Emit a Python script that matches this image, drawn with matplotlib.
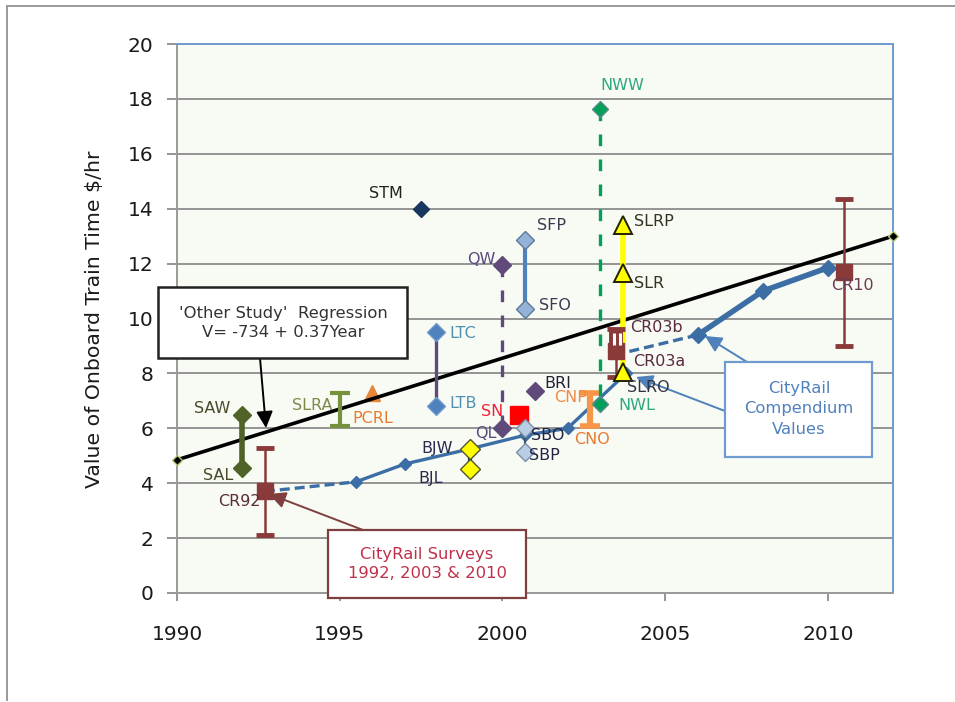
import matplotlib
matplotlib.use("Agg")
import matplotlib.pyplot as plt
from matplotlib.lines import Line2D

W, H = 955, 702

# regression
reg_x = [1990, 2012]
reg_y = [4.85, 13.0]

# CityRail compendium values
comp_thin_x = [1995.5, 1997, 1999, 2000.7, 2002, 2003.8]
comp_thin_y = [4.05, 4.7, 5.25, 5.75, 6.0, 8.0]
comp_thick_x = [2006, 2008, 2010]
comp_thick_y = [9.4, 11.0, 11.85]
comp_dash1_x = [1992.7, 1995.5]
comp_dash1_y = [3.7, 4.05]
comp_dash2_x = [2003.9, 2006]
comp_dash2_y = [8.8, 9.4]

# surveys with error bars
cr_x = [1992.7, 2003.5, 2010.5]
cr_y = [3.7, 8.8, 11.7]
cr_low = [2.1, 7.87, 9.0]
cr_high = [5.3, 9.6, 14.35]

slra_x = 1995
slra_low, slra_high = 6.1, 7.3
cno_x = 2002.7
cno_low, cno_high = 6.1, 7.3

saw_x, saw_y = [1992, 1992], [6.5, 4.55]
ltc_x, ltc_y = [1997.95, 1997.95], [9.5, 6.8]
bjw_x, bjw_y = [1999, 1999], [5.25, 4.5]
qw_x, qw_y = [2000, 2000], [11.95, 6.0]
sfp_x, sfp_y = [2000.7, 2000.7], [12.85, 10.35]
sbo_x, sbo_y = [2000.7, 2000.7], [6.0, 5.15]
nww_x, nww_y = [2003, 2003], [17.65, 6.9]
slr_x, slr_y = [2003.7, 2003.7, 2003.7], [13.4, 11.65, 8.05]

labels = ["SAW", "SAL", "CR92", "SLRA", "PCRL", "LTC", "LTB", "STM", "BJW", "BJL",
          "QW", "QL", "SFP", "SFO", "SBO", "SBP", "SN", "BRI", "CNP", "CNO",
          "NWW", "NWL", "SLRP", "SLR", "SLRO", "CR03b", "CR03a", "CR10"]
label_px = [(212, 408), (218, 476), (239, 502), (312, 406), (373, 419), (463, 333), (463, 403), (386, 193),
            (437, 448), (431, 479), (481, 260), (486, 434), (551, 225), (555, 306), (548, 435), (544, 456),
            (492, 412), (558, 383), (571, 398), (592, 440), (622, 85), (637, 406), (654, 221), (649, 284),
            (648, 388), (656, 327), (659, 361), (852, 285)]
label_colors = ["#4a4a2a", "#4a4a2a", "#5c2a3a", "#7a8a4a", "#e87a30", "#4f8fb0", "#4f8fb0", "#222222",
                "#2a2a50", "#2a2a50", "#5a4a80", "#5a4a80", "#3a3a50", "#3a3a50", "#222244", "#222244",
                "#f0203a", "#222233", "#f08a4a", "#e87a30", "#30a880", "#30a880", "#333322", "#333322",
                "#333344", "#5a2a40", "#5a2a40", "#6a3a50"]


def px(x, y):
    return x / W, 1 - y / H


plt.rcParams["font.family"] = "DejaVu Sans"
DASH = (0, (3.5, 4))

fig = plt.figure(figsize=(W / 100, H / 100), dpi=100, facecolor="white")
ax = fig.add_axes([177 / W, (H - 593) / H, 716 / W, 549 / H], facecolor="#f8fbf4")
ax.set_xlim(1990, 2012)
ax.set_ylim(0, 20)
ax.set_xticks([1990, 1995, 2000, 2005, 2010])
ax.set_yticks(range(0, 21, 2))
ax.tick_params(axis="y", length=7, width=1.3, color="#8c8c8c", labelsize=14.5, pad=10, labelcolor="#1a1a1a")
ax.tick_params(axis="x", length=6, width=1.3, color="#8c8c8c", labelsize=14.5, pad=17, labelcolor="#1a1a1a")
ax.grid(axis="y", color="#8c8c8c", lw=1.3, zorder=1)
ax.set_axisbelow(True)
ax.spines["left"].set_color("#9a9a9a")
ax.spines["bottom"].set_color("#9a9a9a")
ax.spines["top"].set_color("#6f9bd1")
ax.spines["right"].set_color("#6f9bd1")
for s in ax.spines.values():
    s.set_linewidth(1.4)
fig.text(95 / W, 1 - 319 / H, "Value of Onboard Train Time $/hr", rotation=90, fontsize=14.7,
         ha="center", va="center", color="#1a1a1a", parse_math=False)

# outer frame
fig.add_artist(Line2D([7 / W, 7 / W], [1 - 6 / H, 1 - 700 / H], color="#9a9a9a", lw=1.4))
fig.add_artist(Line2D([7 / W, 1], [1 - 6 / H, 1 - 6 / H], color="#9a9a9a", lw=1.4))

# regression
ax.plot(reg_x, reg_y, color="black", lw=2.6, zorder=4, marker="D", ms=5, mfc="black",
        mec="#b5c77a", clip_on=False)

# compendium lines
ax.plot(comp_thin_x, comp_thin_y, color="#3c6ea5", lw=2.4, marker="D", ms=6, zorder=5)
ax.plot(comp_thick_x, comp_thick_y, color="#3c6ea5", lw=4, marker="D", ms=8, zorder=5)
ax.plot(comp_dash1_x, comp_dash1_y, color="#3c6ea5", lw=2.4, ls=(0, (3, 1.5)), zorder=5)
ax.plot(comp_dash2_x, comp_dash2_y, color="#3c6ea5", lw=2.4, ls=(0, (3, 1.5)), zorder=5)

# study pairs
ax.plot(saw_x, saw_y, color="#4f6228", lw=4, marker="D", ms=9.5, zorder=6)
ax.plot(ltc_x, ltc_y, color="#604a7b", lw=2.4, zorder=6)
ax.plot(ltc_x, ltc_y, ls="none", marker="D", ms=9.5, mfc="#4f81bd", mec="#6f9bd1", zorder=6)
ax.plot(qw_x, qw_y, color="#604a7b", lw=2.4, ls=DASH, zorder=6)
ax.plot(qw_x, qw_y, ls="none", marker="D", ms=9, color="#604a7b", zorder=6)
ax.plot(sfp_x, sfp_y, color="#4f81bd", lw=3, zorder=6)
ax.plot(sfp_x, sfp_y, ls="none", marker="D", ms=9, mfc="#95b3d7", mec="#5a7a9a", zorder=6)
ax.plot(nww_x, nww_y, color="#00a05a", lw=2.4, ls=DASH, zorder=6)
ax.plot(nww_x, nww_y, ls="none", marker="D", ms=8, mfc="#00a05a", mec="#5a8a8a", zorder=6)
ax.plot(slr_x, slr_y, color="#ffff00", lw=4, zorder=6)

# single points
ax.plot(1997.5, 14, marker="D", ms=8.5, color="#17375e", zorder=6)
ax.plot(1996, 7.3, marker="^", ms=12, color="#e5873a", zorder=3)
ax.plot(2001, 7.35, marker="D", ms=9, color="#604a7b", zorder=6)
ax.plot(2000.5, 6.5, marker="s", ms=13, color="#ff0000", zorder=6)

# i-beams
ax.errorbar(slra_x, (slra_low + slra_high) / 2, yerr=(slra_high - slra_low) / 2, color="#76923c",
            lw=3, capsize=7, capthick=3, zorder=5)
ax.errorbar(cno_x, (cno_low + cno_high) / 2, yerr=(cno_high - cno_low) / 2, color="#f79646",
            lw=4.5, capsize=7, capthick=4, zorder=5)

# surveys
for i in range(len(cr_x)):
    ax.errorbar(cr_x[i], cr_y[i], yerr=[[cr_y[i] - cr_low[i]], [cr_high[i] - cr_y[i]]], color="#8b3a3a",
                lw=1.8, capsize=6.5, capthick=3.5, marker="s", ms=11, zorder=7)
ax.plot([2003.5, 2003.5], [8.5, 9.6], color="#8b3a3a", lw=10, solid_capstyle="butt", zorder=7)
ax.plot([2003.42, 2003.42], [9.03, 9.47], color="white", lw=2.2, solid_capstyle="butt", zorder=8)
ax.plot([2003.6, 2003.6], [9.03, 9.47], color="white", lw=2.2, solid_capstyle="butt", zorder=8)

# markers that sit on top of the lines
ax.plot(bjw_x, bjw_y, color="#17375e", lw=3, marker="D", ms=10, mfc="#ffff00", mec="#555533", zorder=8)
ax.plot(sbo_x, sbo_y, color="#44556a", lw=1.5, marker="D", ms=9.5, mfc="#b9cde5", mec="#7a8ea5", zorder=8)
ax.plot(slr_x, slr_y, ls="none", marker="^", ms=13, mfc="#ffff00", mec="#222200", mew=1.4, zorder=8)

for name, p, c in zip(labels, label_px, label_colors):
    fig.text(*px(*p), name, color=c, fontsize=11.5, ha="center", va="center", zorder=10)

# callouts
fig.add_artist(plt.Rectangle(px(158, 358), 249 / W, 71 / H, transform=fig.transFigure, fc="white", ec="#222222",
                             lw=1.8, zorder=11))
fig.text(*px(283, 323), "'Other Study'  Regression\nV= -734 + 0.37Year", ha="center", va="center",
         fontsize=11.8, linespacing=1.4, color="#333333", zorder=12)
fig.add_artist(plt.Rectangle(px(328, 598), 198 / W, 68 / H, transform=fig.transFigure, fc="white", ec="#7f3f3f",
                             lw=1.6, zorder=11))
fig.text(*px(427, 564), "CityRail Surveys\n1992, 2003 & 2010", ha="center", va="center", fontsize=11.8,
         linespacing=1.4, color="#c0304a", zorder=12)
fig.add_artist(plt.Rectangle(px(725, 457), 147 / W, 95 / H, transform=fig.transFigure, fc="white", ec="#6f9bd1",
                             lw=1.6, zorder=11))
fig.text(*px(799, 409), "CityRail\nCompendium\nValues", ha="center", va="center", fontsize=11.8, linespacing=1.5,
         color="#4f81bd", zorder=12)


def arrow(start, end, color, lw):
    ax.annotate("", xy=px(*end), xytext=px(*start), xycoords="figure fraction", textcoords="figure fraction",
                arrowprops=dict(arrowstyle="-|>", color=color, lw=lw, mutation_scale=25, shrinkA=0, shrinkB=0),
                zorder=9)


arrow((260, 358), (266, 428), "black", 1.4)
arrow((363, 530), (269, 494), "#7f3f3f", 1.4)
arrow((747, 362), (705, 336), "#4f81bd", 1.4)
arrow((725, 411), (636, 377), "#4f81bd", 1.4)

fig.savefig("out.png", dpi=100)
